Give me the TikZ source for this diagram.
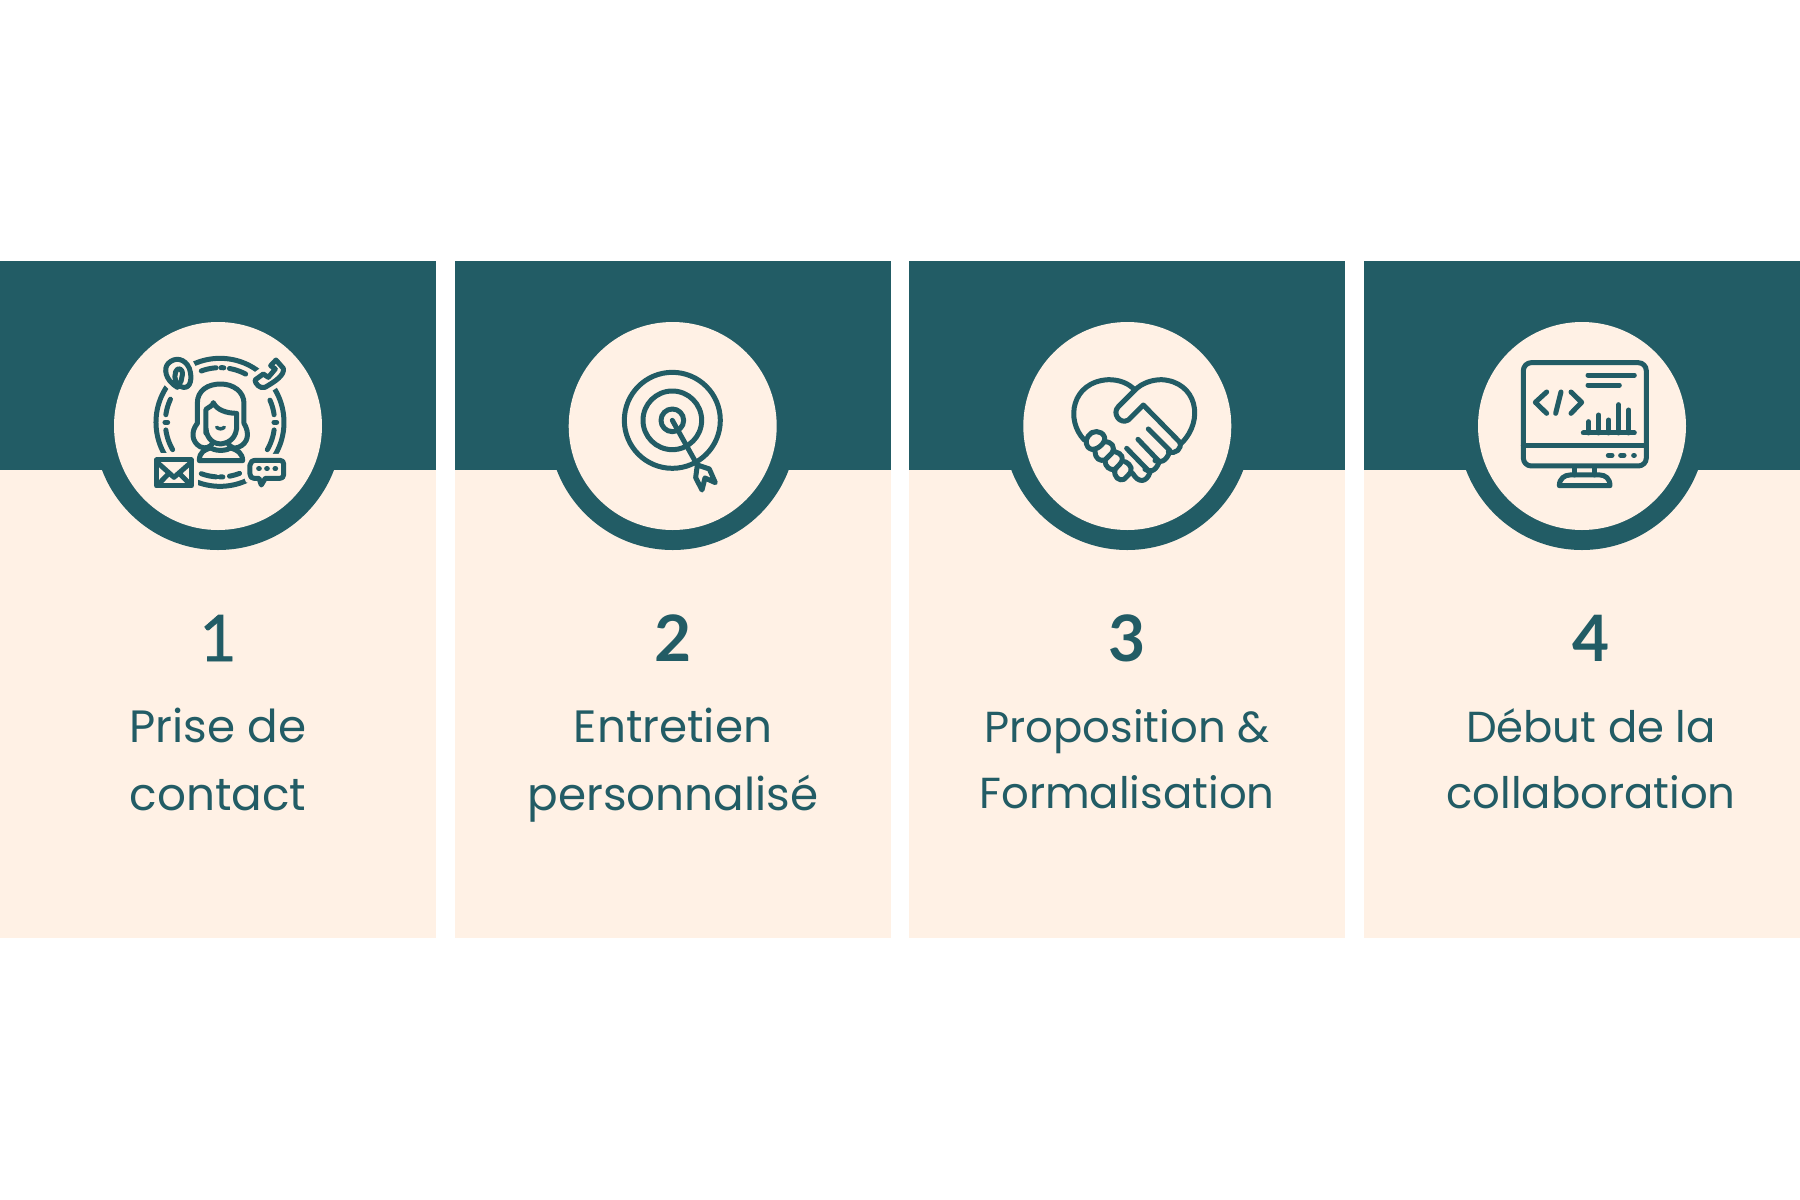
\documentclass[tikz,border=0pt]{standalone}
\usepackage{fontspec}
\setmainfont{Poppins}
\newfontfamily\numfont{Lato}
\definecolor{teal}{HTML}{225C65}
\definecolor{cream}{HTML}{FFF1E5}
\tikzset{
  ink/.style={draw=teal,line width=5pt,line cap=round,line join=round,fill=none},
  halo/.style={preaction={draw=cream,fill=cream,line width=13pt}},
  num/.style={text=teal,font=\numfont\bfseries\fontsize{64}{64}\selectfont,anchor=base},
  numlight/.style={text=teal,font=\numfont\fontsize{64}{64}\selectfont\addfontfeature{FakeBold=1},anchor=base},
  lab/.style={text=teal,font=\fontsize{45.3}{45}\selectfont,anchor=base},
  labs/.style={text=teal,font=\fontsize{43.4}{45}\selectfont,anchor=base},
}
\newcommand{\panel}[2]{%
  \fill[cream] (#1,261) rectangle (#1+436,938);
  \fill[teal] (#1,261) rectangle (#1+436,470);
  \fill[teal] (#2,426) circle (124);
  \fill[cream] (#2,426) circle (104);
}
\newcommand{\ringarc}[2]{%
  \draw[ink] plot[domain=#1:#2,samples=12,smooth] ({360+164*cos(\x)},{367+164*sin(\x)});
}
\begin{document}
\begin{tikzpicture}[x=1pt,y=-1pt]
\useasboundingbox (0,0) rectangle (1800,1200);
\fill[white] (0,0) rectangle (1800,1200);
\panel{0}{218}
\panel{454.7}{672.7}
\panel{909.3}{1127.3}
\panel{1364}{1582}
% icon 1
\begin{scope}[shift={(100,300)},x=0.3333pt,y=-0.3333pt]
  \draw[ink] (360,367) ellipse [x radius=64pt,y radius=64pt];
  \ringarc{-110}{-94}
  \ringarc{-89}{-86}
  \ringarc{-80}{-62}
  \ringarc{110}{94}
  \ringarc{90}{87}
  \ringarc{80}{69}
  \ringarc{205}{188}
  \ringarc{172}{150}
  \ringarc{-24}{-8}
  \ringarc{8}{30}
  \draw[ink] (195,367) -- (203,367) (522,367) -- (530,367);
  % @ pin
  \draw[ink,halo] (232,262) .. controls (195,240) and (190,205) .. (205,190) .. controls (225,170) and (255,175) .. (268,205) .. controls (278,235) and (272,265) .. (250,262) .. controls (228,258) and (220,235) .. (227,215) .. controls (232,200) and (250,205) .. (247,225) -- (243,245);
  % phone
  \draw[ink,halo] (528,180) -- (550,205) .. controls (555,225) and (525,245) .. (495,262) .. controls (480,268) and (465,250) .. (465,240) -- (490,222) -- (505,232) -- (526,207) -- (512,197) -- cycle;
  % envelope
  \draw[ink,halo] (170,480) rectangle (274,558);
  \draw[ink] (175,490) -- (222,532) -- (270,490) (175,553) -- (205,522) (270,553) -- (240,522);
  % chat
  \draw[ink,halo] (468,481) -- (540,481) .. controls (548,481) and (551,486) .. (551,492) -- (551,524) .. controls (551,532) and (546,535) .. (540,535) -- (496,535) -- (484,555) -- (477,535) -- (462,535) .. controls (455,535) and (450,530) .. (450,522) -- (450,495) .. controls (450,486) and (458,481) .. (468,481);
  \draw[ink] (476,506) -- (478,506) (500,506) -- (502,506) (525,506) -- (527,506);
  % woman
  \draw[ink] (292,370) -- (292,310) .. controls (292,270) and (325,252) .. (362,252) .. controls (400,252) and (432,275) .. (432,310) -- (432,370) .. controls (450,400) and (445,430) .. (415,442) .. controls (395,448) and (390,440) .. (385,432);
  \draw[ink] (292,370) .. controls (272,395) and (275,425) .. (300,440) .. controls (315,448) and (330,442) .. (336,432);
  \draw[ink] (318,400) -- (318,328) .. controls (328,320) and (338,318) .. (340,308) .. controls (350,330) and (380,340) .. (410,340) -- (410,385) .. controls (405,425) and (375,430) .. (362,432) .. controls (345,432) and (320,420) .. (318,385);
  \draw[ink,line width=3.5pt] (350,382) .. controls (358,388) and (365,388) .. (373,382);
  \draw[ink] (328,440) .. controls (340,455) and (385,455) .. (395,440);
  \draw[ink] (328,445) .. controls (315,450) and (298,455) .. (298,482) -- (428,482) .. controls (428,460) and (412,450) .. (395,445);
\end{scope}
% icon 2
\begin{scope}[shift={(560,320)},x=0.3333pt,y=-0.3333pt]
  \draw[ink] (337,301) circle (144);
  \draw[ink] (337,301) circle (88);
  \draw[ink] (337,301) circle (34);
  \draw[ink] (337,301) -- (412,435);
  \draw[ink,fill=cream] (412,435) -- (448,447) -- (466,488) -- (435,474) -- (426,510) -- (407,473) -- cycle;
\end{scope}
% icon 3
\begin{scope}[shift={(1020,340)},x=0.3333pt,y=-0.3333pt]
  \draw[ink] (193,300) .. controls (135,240) and (155,125) .. (265,119) .. controls (300,119) and (325,130) .. (345,150) .. controls (365,130) and (395,119) .. (425,119) .. controls (530,125) and (555,240) .. (484,310);
  \draw[ink] (345,150) -- (295,200) .. controls (275,220) and (300,255) .. (325,240) -- (370,195) -- (478,305) .. controls (490,325) and (465,345) .. (445,335);
  \draw[ink] (385,267) -- (450,332) .. controls (440,365) and (420,370) .. (405,362);
  \draw[ink] (354,298) -- (418,365) .. controls (405,400) and (385,395) .. (375,388);
  \draw[ink] (320,325) -- (390,397) .. controls (380,428) and (355,430) .. (338,400);
  \draw[ink] (205,288) .. controls (215,270) and (245,270) .. (253,290) .. controls (260,305) and (235,330) .. (215,328) .. controls (195,322) and (195,300) .. (205,288);
  \draw[ink] (253,305) .. controls (275,305) and (288,320) .. (275,340) -- (255,360) .. controls (240,365) and (225,355) .. (225,335);
  \draw[ink] (285,335) .. controls (305,340) and (315,355) .. (300,372) -- (285,388) .. controls (270,392) and (255,380) .. (255,362);
  \draw[ink] (315,365) .. controls (335,375) and (340,390) .. (325,405) -- (312,418) .. controls (298,425) and (280,410) .. (285,390);
\end{scope}
% icon 4
\begin{scope}[shift={(1490,340)},x=0.3333pt,y=-0.3333pt]
  \draw[ink,rounded corners=8pt] (100,68) rectangle (469,378);
  \draw[ink] (100,317) -- (469,317);
  \draw[ink] (294,105) -- (433,105) (294,135) -- (388,135);
  \draw[ink] (170,156) -- (136,187) -- (170,220);
  \draw[ink] (243,156) -- (275,187) -- (243,220);
  \draw[ink] (213,156) -- (197,220);
  \draw[ink] (280,279) -- (433,279);
  \draw[ink] (296,245) -- (296,279) (326,225) -- (326,279) (356,240) -- (356,279) (386,194) -- (386,279) (416,210) -- (416,279);
  \draw[ink] (355,346) -- (366,346) (392,346) -- (402,346) (431,346) -- (433,346);
  \draw[ink] (254,380) -- (254,405) (314,380) -- (314,405);
  \draw[ink] (208,437) .. controls (208,415) and (225,405) .. (240,405) -- (330,405) .. controls (345,405) and (360,415) .. (360,437) -- cycle;
\end{scope}
\node[numlight] (n1) at (218,661) {1};
\node[num] (n2) at (673,661) {2};
\node[num] (n3) at (1127,661) {3};
\node[num] (n4) at (1591,661) {4};
\node[lab] (a1) at (218,742) {Prise de};
\node[lab] (b1) at (218,810) {contact};
\node[lab] (a2) at (673,742) {Entretien};
\node[lab] (b2) at (673,810) {personnalisé};
\node[labs] (a3) at (1127,742) {Proposition \&};
\node[labs] (b3) at (1127,808) {Formalisation};
\node[labs] (a4) at (1591,742) {Début de la};
\node[labs] (b4) at (1591,808) {collaboration};
\end{tikzpicture}
\end{document}
